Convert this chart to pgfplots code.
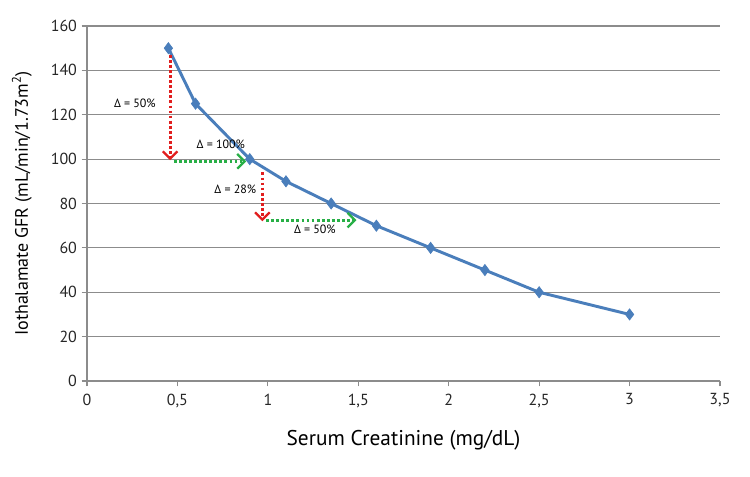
\documentclass[border=0pt]{standalone}
\usepackage{fontspec}
\setmainfont{PT Sans}
\usepackage{pgfplots}
\pgfplotsset{compat=1.18}
\usetikzlibrary{arrows.meta}
\definecolor{lineblue}{RGB}{74,126,187}
\definecolor{gridgray}{RGB}{140,140,140}
\definecolor{arrred}{RGB}{225,30,30}
\definecolor{arrgreen}{RGB}{40,175,70}
\tikzset{annarrow/.style={line width=2.1pt, dash pattern=on 2.1pt off 1.7pt,
    -{Straight Barb[length=5.5pt,width=11pt,line width=1.7pt]}}}
\begin{document}
\begin{tikzpicture}
\begin{axis}[
    scale only axis,
    width=474.75pt, height=266.25pt,
    xmin=0, xmax=3.5, ymin=0, ymax=160,
    xtick={0,0.5,...,3.5},
    ytick={0,20,...,160},
    axis lines*=left,
    axis line style={gridgray, line width=0.8pt},
    ymajorgrids,
    grid style={gridgray, line width=0.8pt},
    tick align=outside,
    major tick length=4pt,
    tick style={gridgray, line width=0.8pt},
    /pgf/number format/use comma,
    /pgf/number format/assume math mode=true,
    tick label style={font=\fontsize{12}{14}\selectfont, text=black!85},
    xticklabel style={yshift=-2pt},
    xlabel={Serum Creatinine (mg/dL)},
    ylabel={Iothalamate GFR (mL/min/1.73m\textsuperscript{2})},
    xlabel style={font=\fontsize{16}{19}\selectfont, at={(axis description cs:0.5,-0.166)}, anchor=center},
    ylabel style={font=\fontsize{13.5}{16}\selectfont, at={(axis description cs:-0.103,0.5)}, anchor=center},
    clip=false,
]
\addplot[lineblue, line width=2.2pt, mark=diamond*, mark size=4.2pt,
    mark options={fill=lineblue, line width=0.5pt}] coordinates {
    (0.45,150) (0.6,125) (0.9,100) (1.1,90) (1.35,80)
    (1.6,70) (1.9,60) (2.2,50) (2.5,40) (3,30)
};
% annotation arrows
\draw[arrred, annarrow] (axis cs:0.46,147) -- (axis cs:0.46,99.5);
\draw[arrgreen, annarrow] (axis cs:0.48,99) -- (axis cs:0.88,99);
\draw[arrred, annarrow] (axis cs:0.97,94) -- (axis cs:0.97,72);
\draw[arrgreen, annarrow] (axis cs:0.99,72.5) -- (axis cs:1.49,72.5);
\node[font=\fontsize{9}{11}\selectfont] at (axis cs:0.265,125) {Δ = 50\%};
\node[font=\fontsize{9}{11}\selectfont] at (axis cs:0.74,106.5) {Δ = 100\%};
\node[font=\fontsize{9}{11}\selectfont] at (axis cs:0.82,86.5) {Δ = 28\%};
\node[font=\fontsize{9}{11}\selectfont] at (axis cs:1.26,68.5) {Δ = 50\%};
\end{axis}
\pgfresetboundingbox
\path ([shift={(-65.25pt,-71.25pt)}]current axis.south west)
    rectangle ([shift={(22.5pt,19.5pt)}]current axis.north east);
\end{tikzpicture}
\end{document}
